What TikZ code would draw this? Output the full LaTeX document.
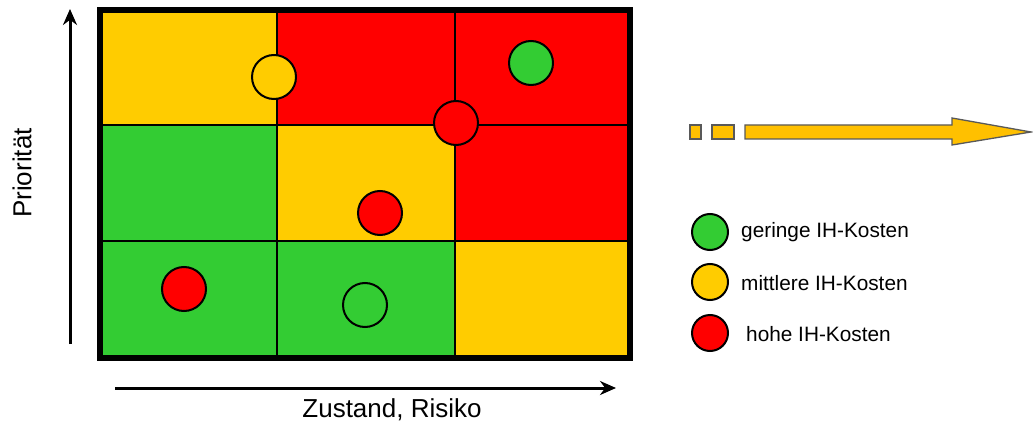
\documentclass[tikz,border=0pt]{standalone}
\usepackage{fontspec}
\setmainfont{Liberation Sans}
\usetikzlibrary{arrows.meta}
\definecolor{cgreen}{HTML}{33CC33}
\definecolor{cyellow}{HTML}{FFCC00}
\definecolor{cred}{HTML}{FF0000}
\definecolor{arrowfill}{HTML}{FFC000}
\definecolor{arrowline}{HTML}{595959}
\tikzset{
  cell/.style={draw=black, line width=2pt},
  dot/.style={circle, draw=black, line width=2pt, minimum size=44pt, inner sep=0pt},
  legdot/.style={circle, draw=black, line width=2pt, minimum size=36pt, inner sep=0pt},
  legtext/.style={anchor=west, inner sep=0pt, font=\fontsize{20.8}{23}\selectfont},
  axis/.style={line width=3pt, -{Stealth[length=16pt, width=14pt]}},
  axistext/.style={inner sep=0pt, font=\fontsize{26}{29}\selectfont},
  bigarrow/.style={fill=arrowfill, draw=arrowline, line width=1.3pt}
}
\begin{document}
\begin{tikzpicture}[x=1pt, y=-1pt]
\useasboundingbox (0,0) rectangle (1033,425);
% cells
\fill[cyellow] (100,10) rectangle (277,125);
\fill[cred] (277,10) rectangle (455,125);
\fill[cred] (455,10) rectangle (630,125);
\fill[cgreen] (100,125) rectangle (277,241);
\fill[cyellow] (277,125) rectangle (455,241);
\fill[cred] (455,125) rectangle (630,241);
\fill[cgreen] (100,241) rectangle (277,358);
\fill[cgreen] (277,241) rectangle (455,358);
\fill[cyellow] (455,241) rectangle (630,358);
% grid lines
\draw[cell] (277,10) -- (277,358);
\draw[cell] (455,10) -- (455,358);
\draw[cell] (100,125) -- (630,125);
\draw[cell] (100,241) -- (630,241);
% frame
\draw[line width=6pt] (100,10) rectangle (630,358);
% circles
\node[dot, fill=cyellow] (c1) at (274,77) {};
\node[dot, fill=cred] (c2) at (456,123) {};
\node[dot, fill=cgreen] (c3) at (531,63) {};
\node[dot, fill=cred] (c4) at (380,213) {};
\node[dot, fill=cred] (c5) at (184,289) {};
\node[dot, fill=cgreen] (c6) at (365,305) {};
% axes
\coordinate (ya) at (70,344);
\coordinate (yb) at (70,9);
\draw[axis] (ya) -- (yb);
\coordinate (xa) at (115,388);
\coordinate (xb) at (616,388);
\draw[axis] (xa) -- (xb);
\node[axistext, rotate=90] (ylab) at (22,173) {Priorität};
\node[axistext] (xlab) at (392,410) {Zustand, Risiko};
% big arrow
\draw[bigarrow] (690,125) rectangle (701,139);
\draw[bigarrow] (712,125) rectangle (734,139);
\draw[bigarrow] (745,125) -- (952,125) -- (952,118) -- (1031,132) -- (952,145) -- (952,139) -- (745,139) -- cycle;
% legend
\node[legdot, fill=cgreen] (l1) at (710,232) {};
\node[legdot, fill=cyellow] (l2) at (710,282) {};
\node[legdot, fill=cred] (l3) at (710,333) {};
\node[legtext] (t1) at (741,232) {geringe IH-Kosten};
\node[legtext] (t2) at (741,283) {mittlere IH-Kosten};
\node[legtext] (t3) at (746,334) {hohe IH-Kosten};
\end{tikzpicture}
\end{document}
